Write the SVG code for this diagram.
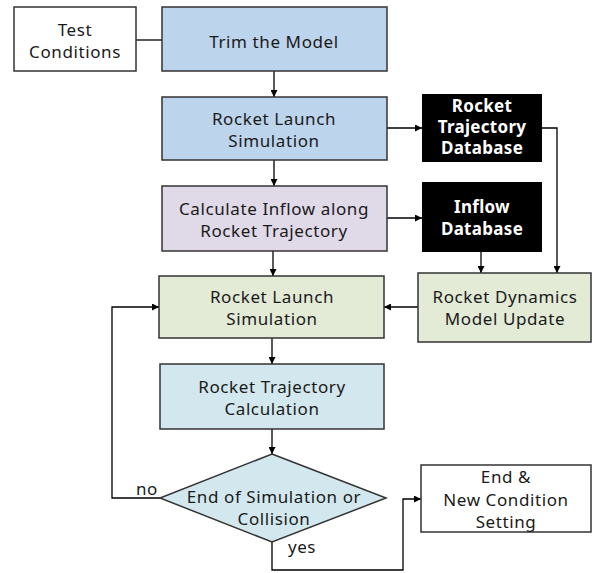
<svg xmlns="http://www.w3.org/2000/svg" width="593" height="573" viewBox="0 0 593 573">
<defs>
<marker id="ah" viewBox="0 0 10 10" refX="10" refY="5" markerWidth="7" markerHeight="7" markerUnits="userSpaceOnUse" orient="auto"><path d="M0,0 L10,5 L0,10 z" fill="#000"/></marker>
<style>
.b{stroke:#333;stroke-width:1.5}
.t{font-family:"Noto Sans","Open Sans",sans-serif;font-size:17px;letter-spacing:0.6px;fill:#1a1a1a;text-anchor:middle}
.w{font-family:"Noto Sans","Open Sans",sans-serif;font-size:17px;font-weight:bold;letter-spacing:0.3px;fill:#fff;text-anchor:middle}
.c{fill:none;stroke:#000;stroke-width:1.3}
</style>
</defs>
<rect width="593" height="573" fill="#fff"/>
<g id="connectors">
<path class="c" d="M136,40 H162"/>
<path class="c" d="M274,71 V97" marker-end="url(#ah)"/>
<path class="c" d="M387,128 H422" marker-end="url(#ah)"/>
<path class="c" d="M274,160 V186" marker-end="url(#ah)"/>
<path class="c" d="M387,218 H422" marker-end="url(#ah)"/>
<path class="c" d="M542,128 H557 V273" marker-end="url(#ah)"/>
<path class="c" d="M481,252 V273" marker-end="url(#ah)"/>
<path class="c" d="M273,251 V276" marker-end="url(#ah)"/>
<path class="c" d="M418,307 H384" marker-end="url(#ah)"/>
<path class="c" d="M272,338 V364" marker-end="url(#ah)"/>
<path class="c" d="M272,429 V454" marker-end="url(#ah)"/>
<path class="c" d="M160,498 H112 V307 H159" marker-end="url(#ah)"/>
<path class="c" d="M272,542 V570 H403 V499 H421" marker-end="url(#ah)"/>
<text class="t" x="147" y="495">no</text>
<text class="t" x="302" y="553">yes</text>
</g>
<g id="test-conditions">
<rect class="b" x="14" y="7" width="122" height="64" fill="#fff"/>
<text class="t" x="75" y="36">Test</text>
<text class="t" x="75" y="58">Conditions</text>
</g>
<g id="trim">
<rect class="b" x="162" y="7" width="225" height="64" fill="#bcd4ec"/>
<text class="t" x="274" y="48">Trim the Model</text>
</g>
<g id="launch-sim-1">
<rect class="b" x="162" y="97" width="225" height="63" fill="#bcd4ec"/>
<text class="t" x="274" y="125">Rocket Launch</text>
<text class="t" x="274" y="147">Simulation</text>
</g>
<g id="traj-db">
<rect x="422" y="94" width="120" height="68" fill="#000"/>
<text class="w" x="482" y="112">Rocket</text>
<text class="w" x="482" y="133">Trajectory</text>
<text class="w" x="482" y="154">Database</text>
</g>
<g id="calc-inflow">
<rect class="b" x="162" y="186" width="225" height="65" fill="#dfd9e8"/>
<text class="t" x="274" y="215">Calculate Inflow along</text>
<text class="t" x="274" y="237">Rocket Trajectory</text>
</g>
<g id="inflow-db">
<rect x="422" y="182" width="120" height="70" fill="#000"/>
<text class="w" x="482" y="213">Inflow</text>
<text class="w" x="482" y="235">Database</text>
</g>
<g id="launch-sim-2">
<rect class="b" x="159" y="276" width="225" height="62" fill="#e3ead6"/>
<text class="t" x="272" y="303">Rocket Launch</text>
<text class="t" x="272" y="325">Simulation</text>
</g>
<g id="dynamics-update">
<rect class="b" x="418" y="273" width="173" height="69" fill="#e3ead6"/>
<text class="t" x="505" y="303">Rocket Dynamics</text>
<text class="t" x="505" y="325">Model Update</text>
</g>
<g id="traj-calc">
<rect class="b" x="160" y="364" width="224" height="65" fill="#d3e8ee"/>
<text class="t" x="272" y="393">Rocket Trajectory</text>
<text class="t" x="272" y="415">Calculation</text>
</g>
<g id="decision">
<path class="b" d="M272,454 L386,498 L272,542 L160,498 z" fill="#d3e8ee"/>
<text class="t" x="274" y="503">End of Simulation or</text>
<text class="t" x="274" y="525">Collision</text>
</g>
<g id="end">
<rect class="b" x="421" y="465" width="170" height="67" fill="#fff"/>
<text class="t" x="506" y="483">End &amp;</text>
<text class="t" x="506" y="506">New Condition</text>
<text class="t" x="506" y="528">Setting</text>
</g>
</svg>
